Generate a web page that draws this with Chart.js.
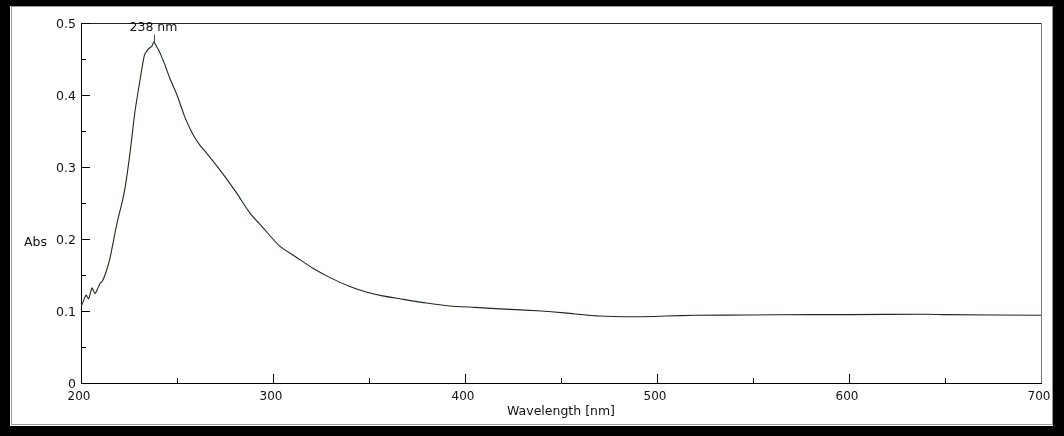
<!DOCTYPE html>
<html>
<head>
<meta charset="utf-8">
<script src="https://cdn.jsdelivr.net/npm/chart.js@4"></script>
<style>
  html, body { margin: 0; padding: 0; background: #000; }
  #wrap { width: 1064px; height: 436px; }
</style>
</head>
<body>
<div id="wrap"><canvas id="absChart" width="1064" height="436"></canvas></div>
<script>
// wavelength (nm) and absorbance
var wavelengths = [200, 201, 202.6, 204, 205.7, 207.3, 208.5, 210, 211, 212.5, 214.6, 216, 218, 220, 221.5, 223, 225.5, 228, 231, 233, 234.5, 236, 237, 238, 239, 240.5, 242, 244, 246, 250, 254, 257, 259, 262, 265.5, 270, 274, 281, 288, 295, 303.5, 312.5, 321, 330, 340, 349, 357, 366, 380, 392, 405, 418, 440, 453, 470, 487, 505, 520, 548, 580, 600, 640, 650, 700];
var absorbance = [0.106, 0.112, 0.122, 0.117, 0.132, 0.124, 0.130, 0.139, 0.141, 0.150, 0.168, 0.185, 0.2125, 0.236, 0.252, 0.272, 0.319, 0.375, 0.425, 0.455, 0.462, 0.466, 0.468, 0.474, 0.469, 0.462, 0.453, 0.440, 0.425, 0.400, 0.370, 0.352, 0.342, 0.330, 0.319, 0.304, 0.290, 0.264, 0.236, 0.215, 0.190, 0.174, 0.159, 0.146, 0.134, 0.126, 0.121, 0.117, 0.111, 0.107, 0.105, 0.103, 0.100, 0.097, 0.093, 0.092, 0.093, 0.094, 0.0944, 0.095, 0.095, 0.0955, 0.095, 0.094];

var peakLabel = '238 nm';
var peakX = 238;
var peakY = 0.474;

var xTitle = 'Wavelength [nm]';
var yTitle = 'Abs';

var points = wavelengths.map(function (w, i) { return { x: w, y: absorbance[i] }; });

var FAMILY = '"DejaVu Sans", Tahoma, sans-serif';
var FONT = '12.5px ' + FAMILY;

// frame, inward ticks, titles and peak marker
var decor = {
  id: 'decor',
  beforeDraw: function (chart) {
    var c = chart.ctx;
    c.save();
    c.fillStyle = '#000';
    c.fillRect(0, 0, chart.width, chart.height);
    c.fillStyle = '#fff';
    c.fillRect(10, 6, 1043, 420);
    c.strokeStyle = '#9a9a9a';
    c.lineWidth = 1;
    c.strokeRect(11.5, 6.5, 1041, 418);
    c.restore();
  },
  afterDraw: function (chart) {
    var c = chart.ctx;
    var xs = chart.scales.x, ys = chart.scales.y;
    var a = chart.chartArea;
    c.save();
    c.lineWidth = 1;
    // top and right edges of plot box
    c.strokeStyle = '#222';
    c.beginPath();
    c.moveTo(a.left, a.top + 0.5);
    c.lineTo(a.right, a.top + 0.5);
    c.stroke();
    c.strokeStyle = '#777';
    c.beginPath();
    c.moveTo(a.right + 0.5, a.top);
    c.lineTo(a.right + 0.5, a.bottom);
    c.stroke();

    c.strokeStyle = '#000';
    c.beginPath();
    for (var v = 0.05; v < 0.5; v += 0.05) {
      var py = Math.round(ys.getPixelForValue(v)) + 0.5;
      var major = Math.abs(v * 10 - Math.round(v * 10)) < 1e-6;
      c.moveTo(a.left, py);
      c.lineTo(a.left + (major ? 9 : 5), py);
    }
    for (var w = 250; w < 700; w += 50) {
      var px = Math.round(xs.getPixelForValue(w)) + 0.5;
      c.moveTo(px, a.bottom);
      c.lineTo(px, a.bottom - (w % 100 === 0 ? 9 : 5));
    }
    c.stroke();

    // axis titles
    c.fillStyle = '#111';
    c.font = FONT;
    c.textBaseline = 'middle';
    c.textAlign = 'left';
    c.fillText(yTitle, 24, 243);
    c.textAlign = 'center';
    c.fillText(xTitle, (a.left + a.right) / 2, 412);

    // peak marker
    var mx = Math.round(xs.getPixelForValue(peakX)) + 0.5;
    var my = ys.getPixelForValue(peakY);
    c.strokeStyle = '#444';
    c.beginPath();
    c.moveTo(mx, my - 7);
    c.lineTo(mx, my + 1);
    c.stroke();
    c.fillText(peakLabel, mx - 1, 28);
    c.restore();
  }
};

var ctx = document.getElementById('absChart').getContext('2d');
var absChart = new Chart(ctx, {
  type: 'line',
  data: {
    datasets: [{
      data: points,
      borderColor: '#1b2b1b',
      borderWidth: 1.1,
      pointRadius: 0,
      tension: 0.2,
      fill: false
    }]
  },
  options: {
    responsive: false,
    animation: false,
    layout: { padding: { left: 0, top: 23, right: 23, bottom: 0 } },
    plugins: {
      legend: { display: false },
      tooltip: { enabled: false }
    },
    scales: {
      x: {
        type: 'linear',
        min: 200,
        max: 700,
        afterFit: function (s) { s.height = 53; },
        grid: { display: false, drawTicks: false },
        border: { display: true, color: '#000', width: 1 },
        ticks: {
          stepSize: 100,
          padding: 7,
          labelOffset: -2,
          color: '#111',
          font: { family: FAMILY, size: 12 },
          maxRotation: 0
        }
      },
      y: {
        min: 0,
        max: 0.5,
        afterFit: function (s) { s.width = 81; },
        grid: { display: false, drawTicks: false },
        border: { display: true, color: '#000', width: 1 },
        ticks: {
          stepSize: 0.1,
          padding: 5,
          labelOffset: 2,
          color: '#111',
          font: { family: FAMILY, size: 12.5 },
          callback: function (v) { return v === 0 ? '0' : v.toFixed(1); }
        }
      }
    }
  },
  plugins: [decor]
});
</script>
</body>
</html>
